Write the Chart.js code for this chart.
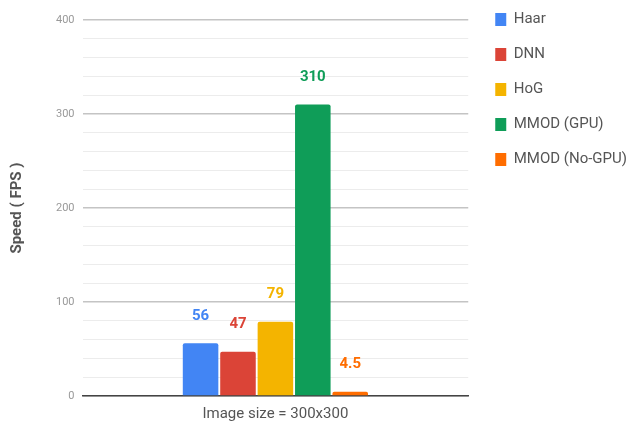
<!DOCTYPE html>
<html>
<head>
<meta charset="utf-8">
<script src="https://cdn.jsdelivr.net/npm/chart.js@4.4.1/dist/chart.umd.min.js"></script>
<style>
  html, body { margin: 0; padding: 0; background: #fff; }
  #wrap { width: 632px; height: 425px; }
</style>
</head>
<body>
<div id="wrap"><canvas id="fpsChart"></canvas></div>
<script>
// data
const categories = ['Image size = 300x300'];
const methods = ['Haar', 'DNN', 'HoG', 'MMOD (GPU)', 'MMOD (No-GPU)'];
const speeds = [56, 47, 79, 310, 4.5];
const colors = ['#4285f4', '#db4437', '#f4b400', '#0f9d58', '#ff6d00'];
const yTicks = [0, 100, 200, 300, 400];

// value labels above each bar, same colour as the bar
const barValues = {
    id: 'barValues',
    afterDatasetsDraw(chart) {
        const ctx = chart.ctx;
        ctx.save();
        ctx.font = 'bold 15px Roboto';
        ctx.textAlign = 'center';
        ctx.textBaseline = 'bottom';
        chart.data.datasets.forEach((ds, i) => {
            const bar = chart.getDatasetMeta(i).data[0];
            ctx.fillStyle = ds.backgroundColor;
            ctx.fillText(String(ds.data[0]), bar.x, bar.y - 20);
        });
        ctx.restore();
    }
};

// legend sits a bit higher and further right than default
const moveLegend = {
    id: 'moveLegend',
    afterLayout(chart) {
        const lg = chart.legend;
        lg.top -= 28;
        lg.bottom -= 28;
        lg.left += 7;
        lg.right += 7;
    }
};

const ctx = document.getElementById('fpsChart').getContext('2d');
new Chart(ctx, {
    type: 'bar',
    data: {
        labels: categories,
        datasets: methods.map((m, i) => ({
            label: m,
            data: [speeds[i]],
            backgroundColor: colors[i],
            borderRadius: 2,
            borderSkipped: 'bottom'
        }))
    },
    options: {
        responsive: true,
        maintainAspectRatio: false,
        animation: false,
        categoryPercentage: 0.485,
        barPercentage: 0.95,
        layout: { padding: { top: 20, left: 4, right: 9, bottom: 1 } },
        plugins: {
            legend: {
                position: 'right',
                align: 'start',
                labels: {
                    boxWidth: 11,
                    boxHeight: 13,
                    padding: 20,
                    color: '#555',
                    font: { family: 'Roboto', size: 15 }
                }
            },
            tooltip: { enabled: false }
        },
        scales: {
            x: {
                grid: { display: false },
                border: { color: '#444', width: 1.5 },
                ticks: { color: '#555', font: { family: 'Roboto', size: 15 }, padding: 1 }
            },
            y: {
                min: 0,
                max: 400,
                border: { display: false },
                ticks: {
                    stepSize: 20,
                    color: '#999',
                    padding: 8,
                    font: { family: 'Roboto', size: 11 },
                    callback: v => yTicks.includes(v) ? v : ''
                },
                grid: {
                    drawTicks: false,
                    color: c => c.tick.value % 100 === 0 ? '#c4c4c4' : '#ececec',
                    lineWidth: c => c.tick.value % 100 === 0 ? 1.5 : 1
                },
                title: {
                    display: true,
                    text: 'Speed ( FPS )',
                    color: '#555',
                    font: { family: 'Roboto', size: 15, weight: 'bold' },
                    padding: { bottom: 22 }
                }
            }
        }
    },
    plugins: [barValues, moveLegend]
});
</script>
</body>
</html>
